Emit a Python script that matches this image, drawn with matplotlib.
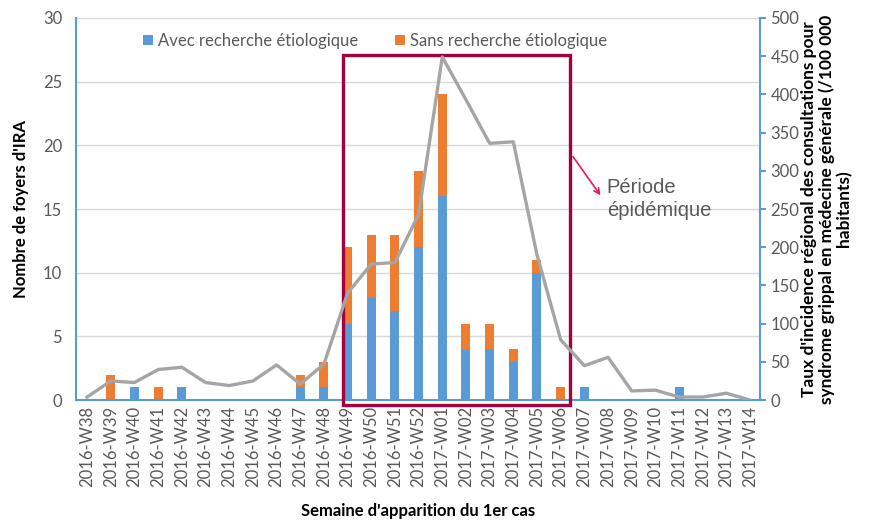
import matplotlib.pyplot as plt
import numpy as np
from matplotlib.patches import Rectangle

plt.rcParams['font.family'] = ['Lato', 'DejaVu Sans']

weeks = ['2016-W38', '2016-W39', '2016-W40', '2016-W41', '2016-W42', '2016-W43',
         '2016-W44', '2016-W45', '2016-W46', '2016-W47', '2016-W48', '2016-W49',
         '2016-W50', '2016-W51', '2016-W52', '2017-W01', '2017-W02', '2017-W03',
         '2017-W04', '2017-W05', '2017-W06', '2017-W07', '2017-W08', '2017-W09',
         '2017-W10', '2017-W11', '2017-W12', '2017-W13', '2017-W14']
avec = [0, 0, 1, 0, 1, 0, 0, 0, 0, 1, 1, 6, 8, 7, 12, 16, 4, 4, 3, 10, 0, 1, 0, 0, 0, 1, 0, 0, 0]
sans = [0, 2, 0, 1, 0, 0, 0, 0, 0, 1, 2, 6, 5, 6, 6, 8, 2, 2, 1, 1, 1, 0, 0, 0, 0, 0, 0, 0, 0]
incidence = [4, 25, 23, 40, 43, 23, 19, 25, 46, 21, 47, 140, 178, 180, 243, 449, 393, 336,
             338, 190, 79, 45, 56, 12, 13, 4, 4, 9, 0]

blue = '#5B9BD5'
orange = '#ED7D31'
grey = '#A5A5A5'
txt = '#595959'

fig = plt.figure(figsize=(8.76, 5.23), dpi=100)
ax = fig.add_axes([0.0868, 0.235, 0.7808, 0.7306])
ind = np.arange(len(weeks))

ax.set_axisbelow(True)
ax.yaxis.grid(True, color='#D9D9D9', linewidth=1)
b1 = ax.bar(ind, avec, width=0.38, color=blue, label='Avec recherche étiologique')
b2 = ax.bar(ind, sans, width=0.38, bottom=avec, color=orange, label='Sans recherche étiologique')
ax.set_ylim(0, 30)
ax.set_yticks(range(0, 31, 5))
ax.set_xlim(-0.47, 28.42)
ax.set_xticks(ind)
ax.set_xticklabels(weeks, rotation=90, color=txt, fontsize=12)
ax.tick_params(axis='y', length=0, labelcolor=txt, labelsize=12, pad=10)
ax.tick_params(axis='x', length=0, pad=4)
for s in ['top', 'right']:
    ax.spines[s].set_visible(False)
for s in ['left', 'bottom']:
    ax.spines[s].set_color(blue)
    ax.spines[s].set_linewidth(1.5)
ax.set_ylabel("Nombre de foyers d'IRA", fontweight='bold', fontsize=12, labelpad=10)
ax.set_xlabel("Semaine d'apparition du 1er cas", fontweight='bold', fontsize=12, labelpad=12)

ax2 = ax.twinx()
ax2.plot(ind, incidence, color=grey, linewidth=2.4)
ax2.set_ylim(0, 500)
ax2.set_yticks(range(0, 501, 50))
ax2.tick_params(axis='y', length=4, color=blue, labelcolor=txt, labelsize=12, width=1.5)
for s in ['top', 'left', 'bottom']:
    ax2.spines[s].set_visible(False)
ax2.spines['right'].set_color(blue)
ax2.spines['right'].set_linewidth(1.5)
ax2.set_ylabel("Taux d'incidence régional des consultations pour\n"
               "syndrome grippal en médecine générale (/100 000\nhabitants)",
               fontweight='bold', fontsize=12.5, labelpad=1, linespacing=1.1)

# période épidémique
rect = Rectangle((10.81, -0.4), 20.4 - 10.81, 27.5, fill=False, edgecolor='#A50040',
                 linewidth=2.4, clip_on=False, zorder=5)
ax.add_patch(rect)
ax.annotate('', xy=(21.75, 15.9), xytext=(20.45, 19.3),
            arrowprops=dict(arrowstyle='->', color='#E8195A', lw=1.2), zorder=6)
ax.text(21.95, 15.8, 'Période\népidémique', fontsize=14.5, color=txt, va='center',
        ha='left', family=['Liberation Sans', 'DejaVu Sans'], linespacing=1.25)

ax.legend(handles=[b1, b2], loc='upper center', bbox_to_anchor=(0.437, 1.0), ncol=2,
          frameon=False, fontsize=12, handlelength=0.6, handleheight=0.6,
          handletextpad=0.3, columnspacing=2.2, labelcolor=txt)

fig.savefig('out.png', dpi=100)
